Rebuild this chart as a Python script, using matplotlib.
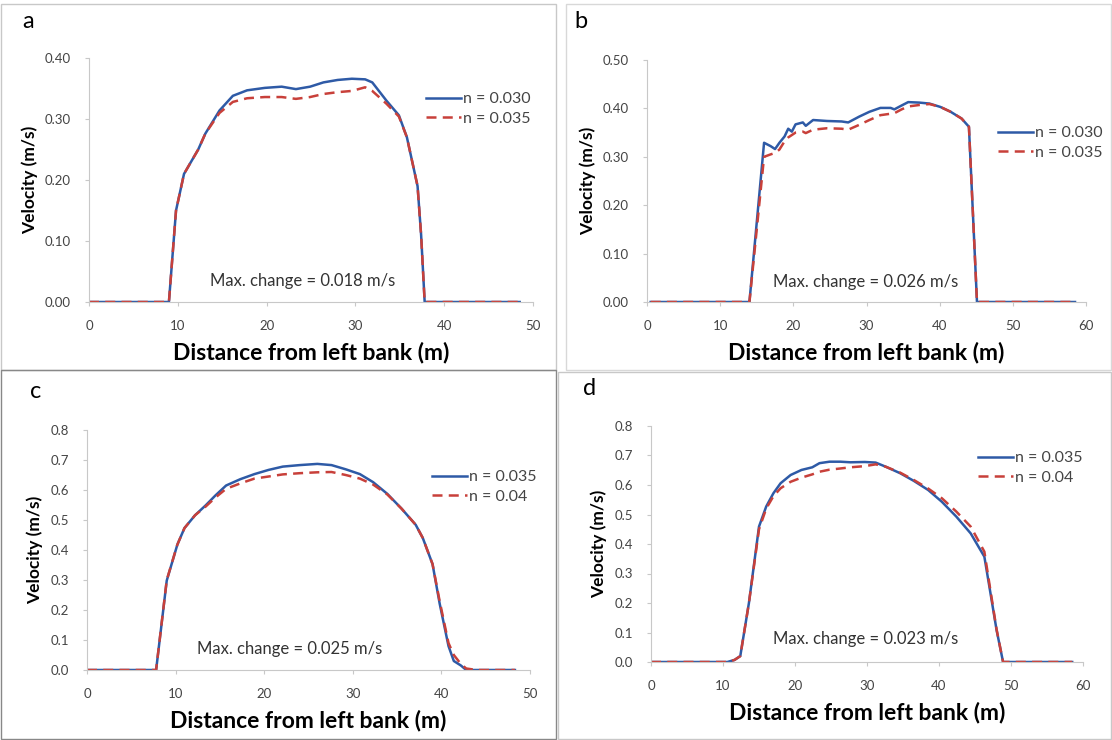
import matplotlib.pyplot as plt
from matplotlib.patches import Rectangle

plt.rcParams['font.family'] = ['Lato', 'DejaVu Sans']

# ---- panel a ----
a_x = [0, 2, 4, 6, 8, 9.0, 9.8, 10.7, 12.3, 13.1, 14.7, 16.2, 17.8, 19.8, 21.7, 23.3, 24.9,
       26.4, 28.0, 29.6, 31.1, 31.9, 33.5, 34.9, 35.8, 37.0, 37.4, 37.8, 40, 42, 44, 46, 48.5]
a_n030 = [0, 0, 0, 0, 0, 0, 0.15, 0.21, 0.25, 0.276, 0.314, 0.338, 0.347, 0.351, 0.353, 0.349, 0.353,
          0.360, 0.364, 0.366, 0.365, 0.360, 0.330, 0.306, 0.27, 0.19, 0.11, 0, 0, 0, 0, 0, 0]
a_n035 = [0, 0, 0, 0, 0, 0, 0.15, 0.21, 0.25, 0.276, 0.310, 0.328, 0.334, 0.336, 0.336, 0.333, 0.336,
          0.341, 0.344, 0.346, 0.352, 0.346, 0.325, 0.304, 0.27, 0.19, 0.11, 0, 0, 0, 0, 0, 0]

# ---- panel b ----
b_x = [0.5, 3, 6, 9, 12, 14.0, 16.0, 16.9, 17.5, 18.1, 18.8, 19.3, 19.8, 20.3, 21.3, 21.7, 22.7,
       24.6, 26.6, 27.5, 29.0, 30.4, 31.9, 33.3, 33.8, 34.8, 35.7, 37.2, 38.6, 40.1, 41.5, 43.0,
       44.0, 45.1, 48, 51, 54, 58.5]
b_n030 = [0, 0, 0, 0, 0, 0, 0.329, 0.322, 0.316, 0.329, 0.342, 0.358, 0.352, 0.367, 0.371, 0.364, 0.376,
          0.374, 0.373, 0.371, 0.383, 0.393, 0.401, 0.401, 0.398, 0.406, 0.413, 0.412, 0.410, 0.403,
          0.393, 0.379, 0.362, 0, 0, 0, 0, 0]
b_n035 = [0, 0, 0, 0, 0, 0, 0.300, 0.305, 0.308, 0.315, 0.332, 0.340, 0.345, 0.350, 0.352, 0.349, 0.356,
          0.359, 0.358, 0.356, 0.366, 0.376, 0.386, 0.389, 0.390, 0.398, 0.404, 0.407, 0.409, 0.403,
          0.393, 0.379, 0.362, 0, 0, 0, 0, 0]

# ---- panel c ----
c_x = [0, 2, 4, 6, 7.8, 9.0, 10.2, 11.0, 12.2, 13.4, 14.5, 15.7, 17.3, 18.9, 20.5, 22.1, 24.0, 26.0,
       27.6, 29.2, 30.8, 32.3, 33.9, 35.5, 37.1, 37.9, 39.0, 39.8, 40.8, 41.4, 42.2, 42.8, 44, 46, 48.3]
c_n035 = [0, 0, 0, 0, 0, 0.298, 0.418, 0.473, 0.516, 0.549, 0.582, 0.615, 0.636, 0.653, 0.667, 0.678,
          0.683, 0.687, 0.683, 0.669, 0.653, 0.626, 0.587, 0.538, 0.484, 0.44, 0.353, 0.222, 0.08,
          0.03, 0.015, 0, 0, 0, 0]
c_n04 = [0, 0, 0, 0, 0, 0.30, 0.418, 0.473, 0.516, 0.545, 0.575, 0.604, 0.622, 0.638, 0.645, 0.652,
         0.656, 0.659, 0.660, 0.650, 0.638, 0.618, 0.585, 0.538, 0.484, 0.44, 0.353, 0.23, 0.09,
         0.05, 0.02, 0.005, 0, 0, 0]

# ---- panel d ----
d_x = [0, 3, 6, 9, 10.6, 11.6, 12.4, 13.6, 15.0, 16.0, 17.0, 18.0, 19.4, 20.9, 22.4, 23.4, 24.8, 26.3,
       27.7, 29.7, 31.2, 32.6, 34.6, 36.5, 38.5, 40.4, 42.4, 44.4, 46.3, 47.0, 48.0, 48.9, 51, 54, 58.5]
d_n035 = [0, 0, 0, 0, 0, 0.007, 0.02, 0.2, 0.459, 0.527, 0.572, 0.606, 0.634, 0.651, 0.660, 0.674,
          0.679, 0.679, 0.677, 0.678, 0.676, 0.662, 0.640, 0.614, 0.583, 0.543, 0.493, 0.436, 0.357,
          0.255, 0.108, 0, 0, 0, 0]
d_n04 = [0, 0, 0, 0, 0, 0.007, 0.02, 0.2, 0.45, 0.52, 0.562, 0.589, 0.611, 0.625, 0.636, 0.645,
         0.652, 0.656, 0.660, 0.664, 0.670, 0.662, 0.642, 0.617, 0.588, 0.555, 0.510, 0.459, 0.374,
         0.265, 0.11, 0, 0, 0, 0]

blue = '#2E5AA6'
red = '#C8403A'

fig = plt.figure(figsize=(11.12, 7.4), dpi=100)
W, H = 1112, 740


def px_axes(left, right, top, bottom):
    return fig.add_axes([left / W, 1 - bottom / H, (right - left) / W, (bottom - top) / H])


panels = [
    # letter, box, x, s1, s2, labels, xmax, ymax, yticks, fmt, note, note pos, legend pos, letter pos
    ('a', (89, 533, 58, 302), a_x, a_n030, a_n035, ('n = 0.030', 'n = 0.035'), 50, 0.40, 0.10, '%.2f',
     'Max. change = 0.018 m/s', (303, 281), (418, 84), (22, 22)),
    ('b', (647, 1086, 60, 302), b_x, b_n030, b_n035, ('n = 0.030', 'n = 0.035'), 60, 0.50, 0.10, '%.2f',
     'Max. change = 0.026 m/s', (866, 282), (990, 118), (574, 22)),
    ('c', (87, 530, 430, 670), c_x, c_n035, c_n04, ('n = 0.035', 'n = 0.04'), 50, 0.8, 0.1, '%.1f',
     'Max. change = 0.025 m/s', (290, 649), (424, 462), (30, 391)),
    ('d', (651, 1083, 426, 662), d_x, d_n035, d_n04, ('n = 0.035', 'n = 0.04'), 60, 0.8, 0.1, '%.1f',
     'Max. change = 0.023 m/s', (866, 639), (970, 443), (583, 389)),
]

for letter, box, x, s1, s2, labels, xmax, ymax, ystep, fmt, note, note_pos, leg_pos, let_pos in panels:
    ax = px_axes(*box)
    ax.plot(x, s1, color=blue, lw=1.8, label=labels[0])
    ax.plot(x, s2, color=red, lw=1.8, dashes=(4, 2.5), label=labels[1])
    ax.set_xlim(0, xmax)
    ax.set_ylim(0, ymax)
    ax.set_xticks(range(0, xmax + 1, 10))
    nt = int(round(ymax / ystep))
    ax.set_yticks([i * ystep for i in range(nt + 1)])
    ax.set_yticklabels([fmt % (i * ystep) for i in range(nt + 1)])
    for s in ['top', 'right']:
        ax.spines[s].set_visible(False)
    for s in ['left', 'bottom']:
        ax.spines[s].set_color('#C8C8C8')
        ax.spines[s].set_linewidth(0.8)
    ax.tick_params(axis='both', colors='#C8C8C8', labelcolor='#444444', labelsize=9.5, length=3, width=0.8)
    ax.tick_params(axis='x', pad=10)
    ax.tick_params(axis='y', pad=10)
    ax.set_xlabel('Distance from left bank (m)', fontsize=16.5, fontweight='bold', labelpad=7)
    ax.set_ylabel('Velocity (m/s)', fontsize=12.5, fontweight='bold', labelpad=5)
    ax.patch.set_alpha(0)
    fig.text(note_pos[0] / W, 1 - note_pos[1] / H, note, fontsize=12, color='#333333',
             ha='center', va='center')
    leg = ax.legend(loc='upper left', bbox_to_anchor=(leg_pos[0] / W, 1 - leg_pos[1] / H),
                    bbox_transform=fig.transFigure, frameon=False, fontsize=11.5,
                    handlelength=2.2, handletextpad=0.1, labelspacing=0.35, borderpad=0,
                    labelcolor='#444444')
    fig.text(let_pos[0] / W, 1 - let_pos[1] / H, letter, fontsize=17, ha='left', va='center')

# panel frames
for (l, t, r, b), col in [((1, 4, 556, 370), '#C8C8C8'), ((566, 4, 1111, 370), '#D8D8D8'),
                          ((1, 370, 556, 739), '#888888'), ((558, 372, 1111, 739), '#C8C8C8')]:
    fig.patches.append(Rectangle((l / W, 1 - b / H), (r - l) / W, (b - t) / H, fill=False,
                                 edgecolor=col, lw=1, transform=fig.transFigure, figure=fig))

fig.savefig('out.png', dpi=100)
